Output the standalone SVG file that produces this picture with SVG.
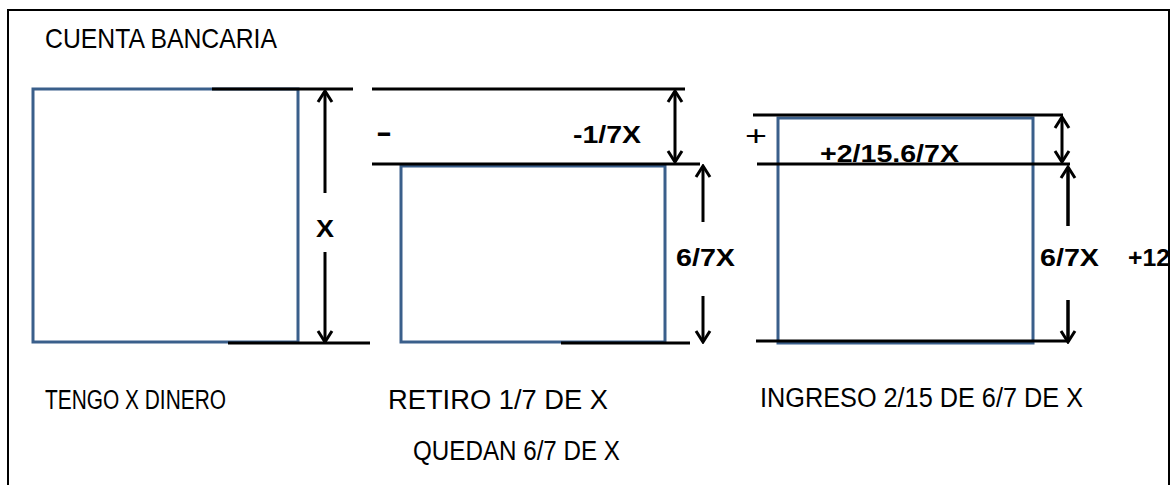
<svg xmlns="http://www.w3.org/2000/svg" width="1174" height="485" viewBox="0 0 1174 485">
<style>
.frame{fill:none;stroke:#000;stroke-width:2}
.box{fill:none;stroke:#3A5F8B;stroke-width:3}
.ln{stroke:#000;stroke-width:3;fill:none}
.arr{stroke:#000;stroke-width:3;fill:none}
.arr2{stroke:#000;stroke-width:3.5;fill:none}
.t{font-family:"Liberation Sans",Arial,sans-serif;fill:#000}
.b{font-family:"Liberation Sans",Arial,sans-serif;font-weight:bold;fill:#000}
</style>
<defs>
<marker id="ah" viewBox="0 0 18 18" refX="16" refY="9" markerWidth="18" markerHeight="18" markerUnits="userSpaceOnUse" orient="auto-start-reverse">
<path d="M5,2 L16,9 L5,16" fill="none" stroke="#000" stroke-width="3"/>
</marker>
</defs>
<rect class="frame" x="8" y="10" width="1161" height="500"/>
<text class="t" x="45" y="48" font-size="28" textLength="232" lengthAdjust="spacingAndGlyphs">CUENTA BANCARIA</text>
<g id="node-tengo">
<rect class="box" x="33" y="89" width="265" height="253"/>
<text class="t" x="45" y="409" font-size="27" textLength="181" lengthAdjust="spacingAndGlyphs">TENGO X DINERO</text>
</g>
<g id="node-retiro">
<rect class="box" x="401" y="166" width="264" height="176"/>
<text class="b" x="376" y="142" font-size="30" textLength="16" lengthAdjust="spacingAndGlyphs">-</text>
<text class="b" x="573" y="143" font-size="24" textLength="68" lengthAdjust="spacingAndGlyphs">-1/7X</text>
<text class="t" x="388" y="409" font-size="27" textLength="220" lengthAdjust="spacingAndGlyphs">RETIRO 1/7 DE X</text>
<text class="t" x="413" y="460" font-size="27" textLength="207" lengthAdjust="spacingAndGlyphs">QUEDAN 6/7 DE X</text>
</g>
<g id="node-ingreso">
<rect class="box" x="778" y="118" width="255" height="225"/>
<text class="t" x="745" y="145" font-size="28" textLength="22" lengthAdjust="spacingAndGlyphs">+</text>
<text class="b" x="820" y="162" font-size="24" textLength="139" lengthAdjust="spacingAndGlyphs">+2/15.6/7X</text>
<text class="t" x="760" y="407" font-size="27" textLength="323" lengthAdjust="spacingAndGlyphs">INGRESO 2/15 DE 6/7 DE X</text>
</g>
<g id="connectors">
<line class="ln" x1="212" y1="89" x2="353" y2="89"/>
<line class="ln" x1="228" y1="343" x2="370" y2="343"/>
<line class="ln" x1="372" y1="89" x2="685" y2="89"/>
<line class="ln" x1="372" y1="164" x2="700" y2="164"/>
<line class="ln" x1="561" y1="343" x2="690" y2="343"/>
<line class="ln" x1="753" y1="115" x2="1063" y2="115"/>
<line class="ln" x1="757" y1="164" x2="1070" y2="164"/>
<line class="ln" x1="756" y1="341" x2="1067" y2="341"/>
<line class="arr" x1="325" y1="193" x2="325" y2="91" marker-end="url(#ah)"/>
<line class="arr" x1="325" y1="252" x2="325" y2="342" marker-end="url(#ah)"/>
<line class="arr" x1="675" y1="91" x2="675" y2="162" marker-start="url(#ah)" marker-end="url(#ah)"/>
<line class="arr" x1="703" y1="222" x2="703" y2="166" marker-end="url(#ah)"/>
<line class="arr" x1="703" y1="296" x2="703" y2="342" marker-end="url(#ah)"/>
<line class="arr" x1="1062" y1="117" x2="1062" y2="162" marker-start="url(#ah)" marker-end="url(#ah)"/>
<line class="arr2" x1="1068" y1="226" x2="1068" y2="167" marker-end="url(#ah)"/>
<line class="arr2" x1="1068" y1="300" x2="1068" y2="342" marker-end="url(#ah)"/>
</g>
<text class="b" x="316" y="237" font-size="24" textLength="18" lengthAdjust="spacingAndGlyphs">X</text>
<text class="b" x="676" y="266" font-size="24" textLength="59" lengthAdjust="spacingAndGlyphs">6/7X</text>
<text class="b" x="1040" y="266" font-size="24" textLength="59" lengthAdjust="spacingAndGlyphs">6/7X</text>
<text class="b" x="1128" y="266" font-size="24" textLength="42" lengthAdjust="spacingAndGlyphs">+12</text>
</svg>
